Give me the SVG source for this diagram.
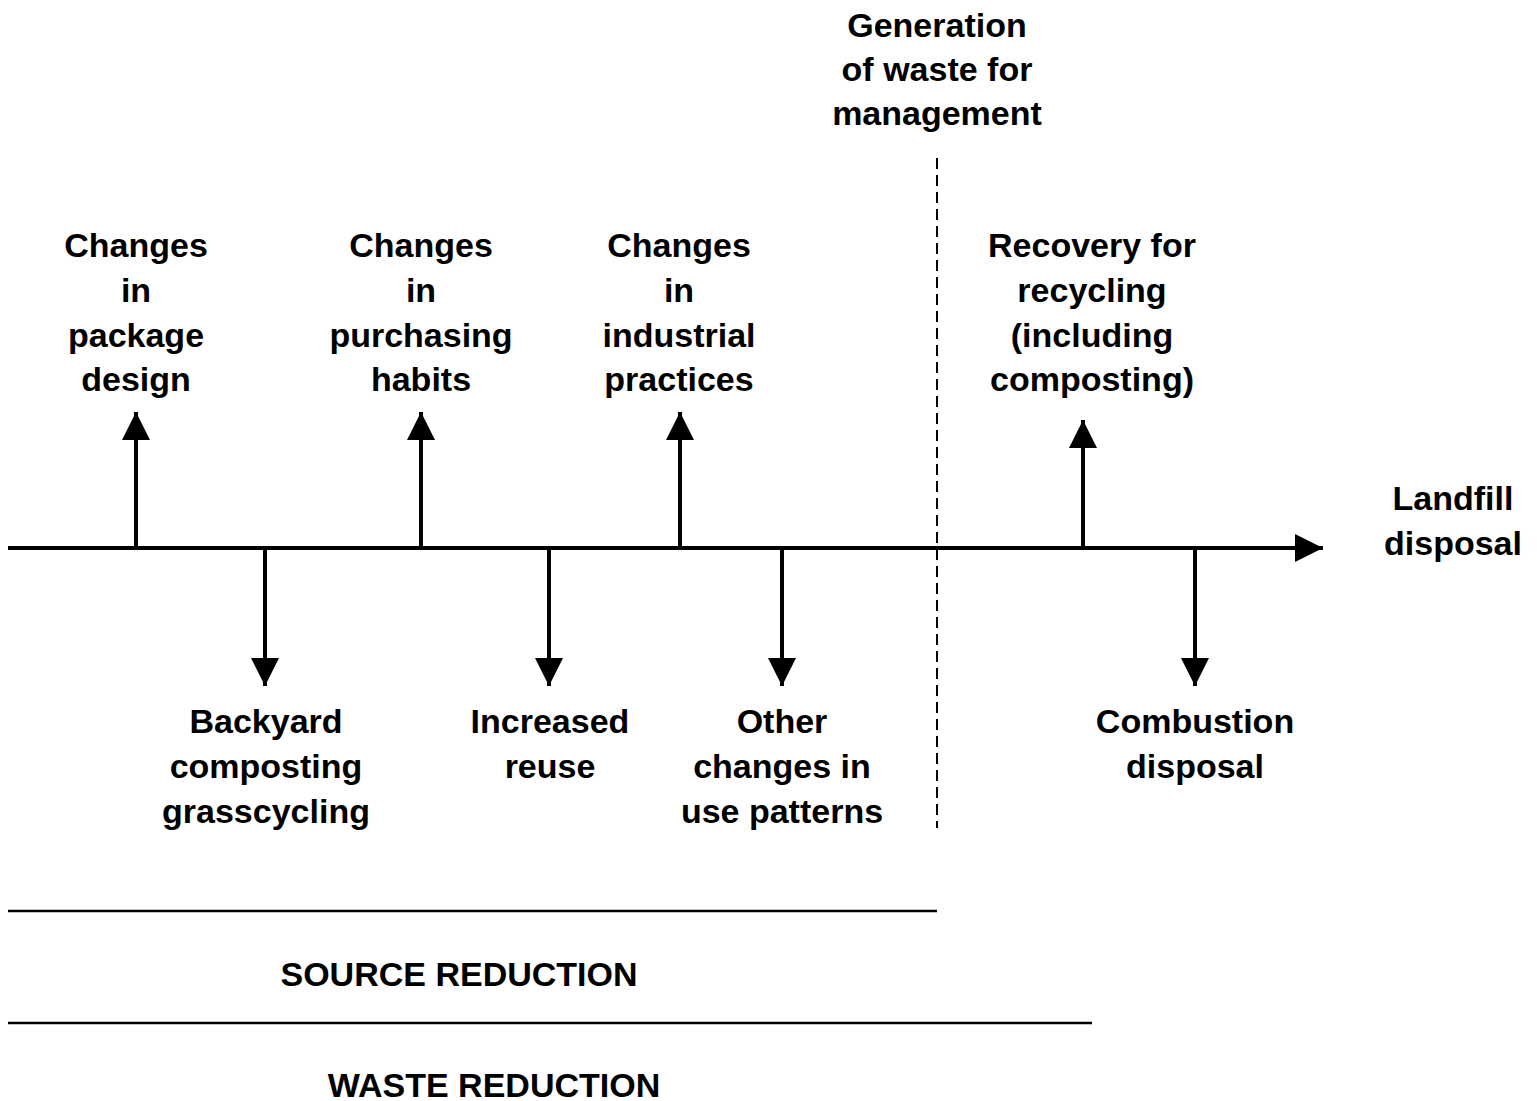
<svg xmlns="http://www.w3.org/2000/svg" width="1537" height="1101" viewBox="0 0 1537 1101">
<style>
text{font-family:"Liberation Sans",Arial,sans-serif;font-weight:bold;font-size:34px;fill:#000;text-anchor:middle}
.ln{stroke:#000;stroke-width:4;fill:none}
.thin{stroke:#000;stroke-width:2.5;fill:none}
.dash{stroke:#000;stroke-width:2;stroke-dasharray:11 6;fill:none}
</style>
<defs>
<marker id="ah" viewBox="0 0 10 10" refX="10" refY="5" markerWidth="7" markerHeight="7" markerUnits="strokeWidth" orient="auto">
<path d="M0,0 L10,5 L0,10 Z" fill="#000"/>
</marker>
</defs>
<rect width="1537" height="1101" fill="#fff"/>
<g id="connectors">
<line class="ln" x1="8" y1="548" x2="1323" y2="548" marker-end="url(#ah)"/>
<line class="ln" x1="136" y1="548" x2="136" y2="412" marker-end="url(#ah)"/>
<line class="ln" x1="421" y1="548" x2="421" y2="412" marker-end="url(#ah)"/>
<line class="ln" x1="680" y1="548" x2="680" y2="412" marker-end="url(#ah)"/>
<line class="ln" x1="1083" y1="548" x2="1083" y2="420" marker-end="url(#ah)"/>
<line class="ln" x1="265" y1="548" x2="265" y2="686" marker-end="url(#ah)"/>
<line class="ln" x1="549" y1="548" x2="549" y2="686" marker-end="url(#ah)"/>
<line class="ln" x1="782" y1="548" x2="782" y2="686" marker-end="url(#ah)"/>
<line class="ln" x1="1195" y1="548" x2="1195" y2="686" marker-end="url(#ah)"/>
<line class="dash" x1="937" y1="158" x2="937" y2="828"/>
<line class="thin" x1="8" y1="911" x2="937" y2="911"/>
<line class="thin" x1="8" y1="1023" x2="1092" y2="1023"/>
</g>
<g id="generation"><text x="937" y="37">Generation</text><text x="937" y="81">of waste for</text><text x="937" y="125">management</text></g>
<g id="package"><text x="136" y="257">Changes</text><text x="136" y="302">in</text><text x="136" y="347">package</text><text x="136" y="391">design</text></g>
<g id="purchasing"><text x="421" y="257">Changes</text><text x="421" y="302">in</text><text x="421" y="347">purchasing</text><text x="421" y="391">habits</text></g>
<g id="industrial"><text x="679" y="257">Changes</text><text x="679" y="302">in</text><text x="679" y="347">industrial</text><text x="679" y="391">practices</text></g>
<g id="recovery"><text x="1092" y="257">Recovery for</text><text x="1092" y="302">recycling</text><text x="1092" y="347">(including</text><text x="1092" y="391">composting)</text></g>
<g id="landfill"><text x="1453" y="510">Landfill</text><text x="1453" y="555">disposal</text></g>
<g id="backyard"><text x="266" y="733">Backyard</text><text x="266" y="778">composting</text><text x="266" y="823">grasscycling</text></g>
<g id="reuse"><text x="550" y="733">Increased</text><text x="550" y="778">reuse</text></g>
<g id="other"><text x="782" y="733">Other</text><text x="782" y="778">changes in</text><text x="782" y="823">use patterns</text></g>
<g id="combustion"><text x="1195" y="733">Combustion</text><text x="1195" y="778">disposal</text></g>
<g id="source"><text x="459" y="986">SOURCE REDUCTION</text></g>
<g id="waste"><text x="494" y="1097">WASTE REDUCTION</text></g>
</svg>
